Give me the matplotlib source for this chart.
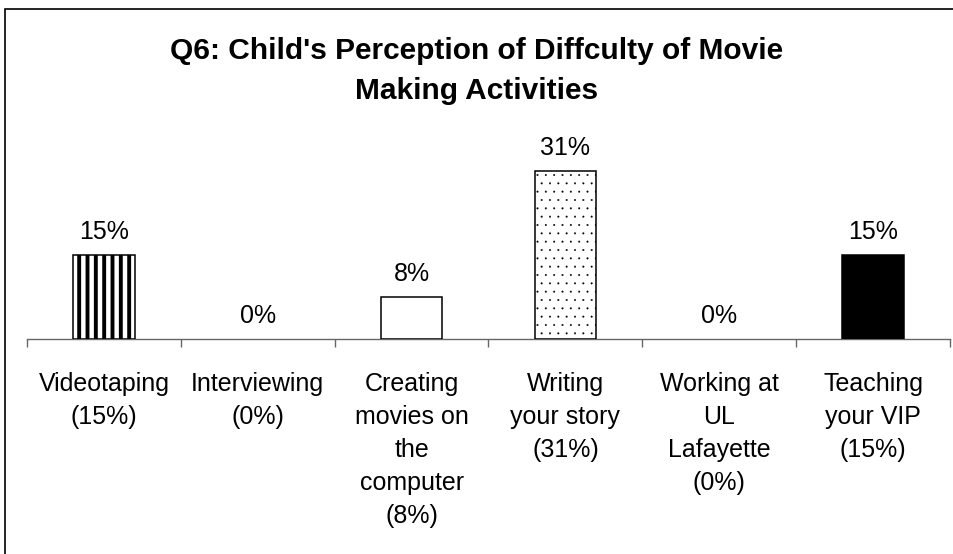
import matplotlib
matplotlib.use("Agg")
import matplotlib.pyplot as plt
from matplotlib.patches import Rectangle

plt.rcParams['font.family'] = ['Liberation Sans', 'DejaVu Sans']
plt.rcParams['hatch.color'] = 'black'

categories = ["Videotaping\n(15%)", "Interviewing\n(0%)",
              "Creating\nmovies on\nthe\ncomputer\n(8%)",
              "Writing\nyour story\n(31%)", "Working at\nUL\nLafayette\n(0%)",
              "Teaching\nyour VIP\n(15%)"]
values = [15.4, 0, 7.7, 30.8, 0, 15.4]
title_lines = ["Q6: Child's Perception of Diffculty of Movie", "Making Activities"]

hatches = ['||', '', '', '..', '', '']
hatch_lws = [2.8, 1.0, 1.0, 0.2, 1.0, 1.0]
faces = ['white', 'white', 'white', 'white', 'white', 'black']

W, H = 954, 554
fig = plt.figure(figsize=(W / 100, H / 100), dpi=100)

# outer frame
fig.patches.append(Rectangle((5 / W, -0.05), 1.2, (H - 9) / H + 0.05,
                             transform=fig.transFigure, fill=False,
                             edgecolor='black', linewidth=1.2, zorder=0))

ax = fig.add_axes([27 / W, (H - 339) / H, 923 / W, 191 / H])
ax.set_xlim(-0.5, 5.5)
ax.set_ylim(0, 35)

x = list(range(len(values)))
for xi, v, fc, h, hlw in zip(x, values, faces, hatches, hatch_lws):
    with plt.rc_context({'hatch.linewidth': hlw,
                         'hatch.color': '#333333' if h == '..' else 'black'}):
        b = ax.bar([xi], [v], width=0.4, color=fc,
                   edgecolor='black' if v > 0 else 'none',
                   linewidth=1.1, hatch=h if h else None, zorder=3)[0]
        if hasattr(b, 'set_hatch_linewidth'):
            b.set_hatch_linewidth(hlw)
    ax.annotate(f"{v:.0f}%", (xi, v), xytext=(0, 8), textcoords='offset points',
                ha='center', va='bottom', fontsize=18)

for s in ['top', 'right', 'left']:
    ax.spines[s].set_visible(False)
ax.spines['bottom'].set_color('#666666')
ax.spines['bottom'].set_linewidth(1.0)
ax.set_yticks([])

ax.set_xticks([i - 0.5 for i in range(len(values) + 1)])
ax.set_xticklabels([])
ax.tick_params(axis='x', which='major', direction='out', length=6,
               color='#666666', width=1.0)
ax.set_xticks(x, minor=True)
ax.set_xticklabels(categories, minor=True, fontsize=18, linespacing=1.475)
ax.tick_params(axis='x', which='minor', length=0, pad=23.5)

for i, line in enumerate(title_lines):
    fig.text(477 / W, 1 - (59 + 40 * i) / H, line, ha='center', va='baseline',
             fontsize=21.5, fontweight='bold')

fig.savefig("out.png", dpi=100)
